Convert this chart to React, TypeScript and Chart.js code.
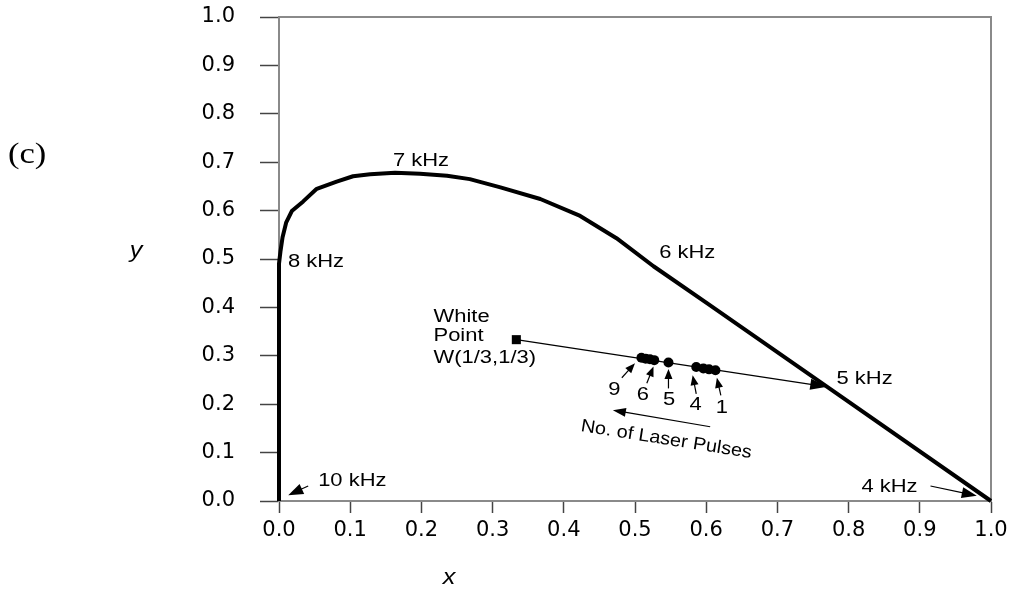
import { useEffect, useRef } from 'react';
import { Chart, registerables } from 'chart.js';

Chart.register(...registerables);

// Chromaticity locus traced by the emission as frequency falls from 10 kHz to 4 kHz
const locusX = [0, 0, 0.002, 0.005, 0.01, 0.018, 0.034, 0.053, 0.081, 0.104, 0.128, 0.163, 0.198, 0.236, 0.268, 0.311, 0.367, 0.423, 0.474, 0.526, 0.601, 0.77, 1.0];
const locusY = [0, 0.49, 0.515, 0.545, 0.575, 0.599, 0.619, 0.645, 0.66, 0.671, 0.675, 0.678, 0.676, 0.672, 0.665, 0.648, 0.624, 0.589, 0.543, 0.485, 0.409, 0.236, 0];

// White point and the line from it towards the 5 kHz point
const whiteX = [1 / 3];
const whiteY = [1 / 3];
const tieX = [1 / 3, 0.77];
const tieY = [1 / 3, 0.236];

// Colour coordinates after 1..9 laser pulses
const pulseX = [0.613, 0.604, 0.596, 0.586, 0.547, 0.527, 0.521, 0.515, 0.509];
const pulseY = [0.27, 0.272, 0.274, 0.277, 0.286, 0.291, 0.293, 0.294, 0.296];

// Axis ticks
const tickMin = 0;
const tickMax = 1;
const tickStep = 0.1;

// Frequency labels along the locus (left edge, baseline)
const freqText = ['10 kHz', '8 kHz', '7 kHz', '6 kHz', '5 kHz', '4 kHz'];
const freqTextX = [0.055, 0.0126, 0.16, 0.534, 0.783, 0.818];
const freqTextY = [0.031, 0.483, 0.693, 0.502, 0.241, 0.019];

// Arrows pointing at 10 kHz and 4 kHz
const freqArrowFromX = [0.041, 0.915];
const freqArrowFromY = [0.031, 0.031];
const freqArrowToX = [0.013, 0.98];
const freqArrowToY = [0.012, 0.011];

// Pulse-count labels (centre, baseline) and their arrows
const pulseText = ['9', '6', '5', '4', '1'];
const pulseTextX = [0.471, 0.511, 0.548, 0.585, 0.622];
const pulseTextY = [0.22, 0.208, 0.198, 0.188, 0.182];
const pulseArrowFromX = [0.4815, 0.5166, 0.547, 0.586, 0.6206];
const pulseArrowFromY = [0.2546, 0.2434, 0.2326, 0.2214, 0.218];
const pulseArrowToX = [0.5, 0.526, 0.547, 0.581, 0.615];
const pulseArrowToY = [0.2846, 0.278, 0.2726, 0.26, 0.2546];

// Direction of increasing pulse count
const trendArrowX = [0.6056, 0.4689];
const trendArrowY = [0.1534, 0.1877];
const trendText = 'No. of Laser Pulses';
const trendTextX = 0.423;
const trendTextY = 0.1446;

// White point caption
const whiteText = ['White', 'Point', 'W(1/3,1/3)'];
const whiteTextX = 0.217;
const whiteTextY = [0.37, 0.331, 0.286];

const pts = (xs: number[], ys: number[]) => xs.map((x, i) => ({ x, y: ys[i] }));

function stretchedText(
  ctx: CanvasRenderingContext2D,
  text: string,
  x: number,
  y: number,
  font: string,
  align: CanvasTextAlign,
  sx: number,
  rot = 0
) {
  ctx.save();
  ctx.translate(x, y);
  if (rot) ctx.rotate(rot);
  ctx.scale(sx, 1);
  ctx.font = font;
  ctx.textAlign = align;
  ctx.textBaseline = 'alphabetic';
  ctx.fillStyle = '#000';
  ctx.fillText(text, 0, 0);
  ctx.restore();
}

function drawArrow(
  ctx: CanvasRenderingContext2D,
  x0: number,
  y0: number,
  x1: number,
  y1: number,
  head: number,
  halfW: number,
  lw: number
) {
  const a = Math.atan2(y1 - y0, x1 - x0);
  const c = Math.cos(a);
  const s = Math.sin(a);
  const bx = x1 - head * c;
  const by = y1 - head * s;
  ctx.save();
  ctx.strokeStyle = '#000';
  ctx.fillStyle = '#000';
  ctx.lineWidth = lw;
  ctx.beginPath();
  ctx.moveTo(x0, y0);
  ctx.lineTo(bx + c, by + s);
  ctx.stroke();
  ctx.beginPath();
  ctx.moveTo(x1, y1);
  ctx.lineTo(bx + halfW * s, by - halfW * c);
  ctx.lineTo(bx - halfW * s, by + halfW * c);
  ctx.closePath();
  ctx.fill();
  ctx.restore();
}

const framePlugin = {
  id: 'frame',
  beforeDatasetsDraw(chart: any) {
    const { ctx, chartArea } = chart;
    ctx.save();
    ctx.strokeStyle = '#8a8a8a';
    ctx.lineWidth = 2;
    ctx.beginPath();
    ctx.moveTo(chartArea.left, chartArea.top);
    ctx.lineTo(chartArea.right, chartArea.top);
    ctx.lineTo(chartArea.right, chartArea.bottom);
    ctx.stroke();
    ctx.restore();
  },
};

const annotationPlugin = {
  id: 'annotations',
  afterDraw(chart: any) {
    const { ctx } = chart;
    const xs = chart.scales.x;
    const ys = chart.scales.y;
    const px = (v: number) => xs.getPixelForValue(v);
    const py = (v: number) => ys.getPixelForValue(v);
    const sans = '18px "Liberation Sans", Arial, sans-serif';
    const sx = 1.22;

    freqText.forEach((t, i) => stretchedText(ctx, t, px(freqTextX[i]), py(freqTextY[i]), sans, 'left', sx));
    freqArrowFromX.forEach((_, i) =>
      drawArrow(ctx, px(freqArrowFromX[i]), py(freqArrowFromY[i]), px(freqArrowToX[i]), py(freqArrowToY[i]), 15, 5.5, 1.2)
    );

    // arrowhead at the end of the line from the white point
    drawArrow(ctx, px(tieX[0]), py(tieY[0]), px(tieX[1]), py(tieY[1]), 17, 5.5, 0.01);

    pulseText.forEach((t, i) => stretchedText(ctx, t, px(pulseTextX[i]), py(pulseTextY[i]), sans, 'center', sx));
    pulseArrowFromX.forEach((_, i) =>
      drawArrow(ctx, px(pulseArrowFromX[i]), py(pulseArrowFromY[i]), px(pulseArrowToX[i]), py(pulseArrowToY[i]), 10, 4, 1.2)
    );

    drawArrow(ctx, px(trendArrowX[0]), py(trendArrowY[0]), px(trendArrowX[1]), py(trendArrowY[1]), 13, 4.5, 1.2);
    stretchedText(ctx, trendText, px(trendTextX), py(trendTextY), sans, 'left', 1.1, (9 * Math.PI) / 180);

    whiteText.forEach((t, i) => stretchedText(ctx, t, px(whiteTextX), py(whiteTextY[i]), sans, 'left', sx));

    // axis titles and panel tag
    const italic = 'italic 22px "Liberation Sans", Arial, sans-serif';
    stretchedText(ctx, 'y', 136, 257, italic, 'center', 1.15);
    stretchedText(ctx, 'x', 449, 584, italic, 'center', 1.15);
    stretchedText(ctx, '(c)', 8, 163, '30px "Liberation Serif", "Times New Roman", serif', 'left', 1.15);
  },
};

export default function App() {
  const canvasRef = useRef<HTMLCanvasElement | null>(null);

  useEffect(() => {
    if (!canvasRef.current) return;
    const tickFont = { family: '"DejaVu Sans", sans-serif', size: 21 };
    const chart = new Chart(canvasRef.current, {
      type: 'scatter',
      data: {
        datasets: [
          {
            data: pts(locusX, locusY),
            showLine: true,
            borderColor: '#000',
            borderWidth: 4,
            borderJoinStyle: 'round',
            borderCapStyle: 'butt',
            pointRadius: 0,
            tension: 0,
            clip: false,
          },
          {
            data: pts(tieX, tieY),
            showLine: true,
            borderColor: '#000',
            borderWidth: 1.3,
            pointRadius: 0,
            clip: false,
          },
          {
            data: pts(whiteX, whiteY),
            pointStyle: 'rect',
            pointRadius: 6.4,
            backgroundColor: '#000',
            borderWidth: 0,
          },
          {
            data: pts(pulseX, pulseY),
            pointStyle: 'circle',
            pointRadius: 5,
            backgroundColor: '#000',
            borderWidth: 0,
          },
        ],
      } as any,
      options: {
        responsive: false,
        animation: false,
        events: [],
        layout: { padding: { left: 0, right: 22, top: 17, bottom: 0 } },
        plugins: { legend: { display: false }, tooltip: { enabled: false } },
        scales: {
          x: {
            type: 'linear',
            min: tickMin,
            max: tickMax,
            afterFit(s: any) {
              s.height = 90;
              s.paddingLeft = 0;
              s.paddingRight = 0;
            },
            ticks: {
              stepSize: tickStep,
              autoSkip: false,
              maxRotation: 0,
              padding: 5,
              color: '#000',
              font: tickFont,
              callback: (v: any) => Number(v).toFixed(1),
            },
            grid: { drawOnChartArea: false, tickLength: 12, tickColor: '#444', tickWidth: 1.5 },
            border: { color: '#8a8a8a', width: 2 },
          },
          y: {
            type: 'linear',
            min: tickMin,
            max: tickMax,
            afterFit(s: any) {
              s.width = 279;
              s.paddingTop = 0;
              s.paddingBottom = 0;
            },
            ticks: {
              stepSize: tickStep,
              autoSkip: false,
              padding: 25,
              color: '#000',
              font: tickFont,
              callback: (v: any) => Number(v).toFixed(1),
            },
            grid: { drawOnChartArea: false, tickLength: 19, tickColor: '#444', tickWidth: 1.5 },
            border: { color: '#8a8a8a', width: 2 },
          },
        },
      } as any,
      plugins: [framePlugin, annotationPlugin],
    });
    return () => chart.destroy();
  }, []);

  return (
    <div style={{ position: 'absolute', left: 0, top: 0, width: 1013, height: 591, background: '#fff' }}>
      <canvas ref={canvasRef} width={1013} height={591} style={{ display: 'block' }} />
    </div>
  );
}
